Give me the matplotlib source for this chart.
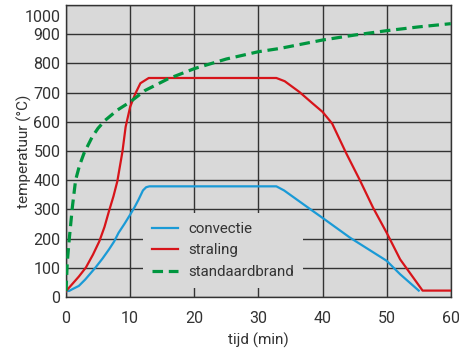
import matplotlib
matplotlib.use('Agg')
import matplotlib.pyplot as plt
import matplotlib.transforms as mtransforms

# values (time in min, temperature in °C)
conv_t = [0, 0.5, 1.0, 2.0, 3.0, 4.6, 5.7, 6.7, 7.5, 8.2, 9.1, 10.0, 10.7, 11.3, 12.0, 12.5, 13.0,
          32.8, 34.0, 38.2, 40.0, 44.3, 50.0, 52.1, 55.0]
conv_T = [20, 21, 27, 38, 60, 101, 132, 163, 190, 220, 250, 282, 308, 333, 365, 376, 379,
          379, 365, 299, 271, 203, 124, 78, 22]

stral_t = [0, 1.0, 2.0, 3.1, 4.2, 5.2, 6.0, 6.7, 7.4, 8.0, 8.8, 9.3, 10.0, 10.8, 11.6, 12.9, 32.8,
           34.1, 36.4, 38.5, 40.0, 41.5, 43.7, 45.8, 47.9, 50.0, 52.1, 55.6, 60]
stral_T = [20, 45, 70, 101, 145, 191, 240, 294, 345, 396, 498, 583, 651, 696, 732, 750, 750,
           739, 702, 662, 634, 594, 492, 401, 305, 220, 129, 22, 22]

std_t = [0, 0.2, 0.5, 1.0, 1.5, 2.1, 2.8, 4.1, 5.0, 6.1, 8.0, 10.0, 12.3, 15.9, 20, 25, 30, 33.3,
         40, 45, 50, 55, 60]
std_T = [20, 120, 197, 310, 401, 450, 492, 549, 578, 605, 640, 668, 707, 747, 782, 815, 840, 851,
         880, 897, 912, 925, 936]

xticks = [0, 10, 20, 30, 40, 50, 60]
yticks = [0, 100, 200, 300, 400, 500, 600, 700, 800, 900, 1000]

plt.rcParams['font.family'] = ['Roboto', 'DejaVu Sans']

fig = plt.figure(figsize=(4.6, 3.51), dpi=100)
ax = fig.add_axes([0.1435, 0.1538, 0.8365, 0.832])
ax.set_facecolor('#d9d9d9')

ax.plot(conv_t, conv_T, color='#1a9ad6', lw=1.6, label='convectie', zorder=3)
ax.plot(stral_t, stral_T, color='#d7141a', lw=1.6, label='straling', zorder=3)
ax.plot(std_t, std_T, color='#00963f', lw=2.3, dashes=(3.3, 1.8), label='standaardbrand', zorder=3)

ax.set_xlim(0, 60)
ax.set_ylim(0, 1000)
ax.set_xticks(xticks)
ax.set_yticks(yticks)
ax.grid(True, color='#333333', lw=1.0, zorder=1)
ax.set_axisbelow(True)
ax.tick_params(length=0, labelsize=11.5, labelcolor='#333333')
ax.tick_params(axis='x', pad=10)
ax.tick_params(axis='y', pad=4)

# top label sits a bit below the axes edge
lbl = ax.get_yticklabels()[-1]
lbl.set_transform(lbl.get_transform() + mtransforms.ScaledTranslation(0, -11 / 100, fig.dpi_scale_trans))

for s in ax.spines.values():
    s.set_color('#333333')
    s.set_linewidth(1.0)

ax.set_xlabel('tijd (min)', fontsize=11, color='#333333', labelpad=5)
ax.set_ylabel('temperatuur (°C)', fontsize=11, color='#333333')
ax.yaxis.set_label_coords(-0.088, 0.5)

leg = ax.legend(loc='lower left', bbox_to_anchor=(0.2, 0.031), borderaxespad=0, frameon=True,
                fontsize=10.8, handlelength=1.75, handletextpad=0.65, labelspacing=0.5, borderpad=0.6)
leg.get_frame().set_facecolor('#d9d9d9')
leg.get_frame().set_edgecolor('none')
leg.get_frame().set_alpha(1)
leg.get_frame().set_boxstyle('square', pad=0)
for t in leg.get_texts():
    t.set_color('#333333')

fig.savefig('out.png', dpi=100)
